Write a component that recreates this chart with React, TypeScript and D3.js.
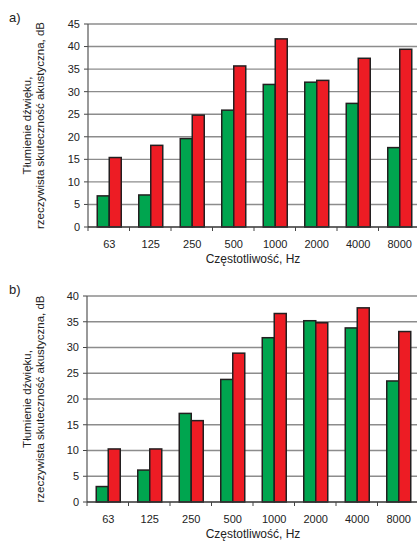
import * as d3 from "d3";

const categories = ["63", "125", "250", "500", "1000", "2000", "4000", "8000"];

// panel a)
const greenA = [6.9, 7.1, 19.6, 25.9, 31.6, 32.1, 27.4, 17.6];
const redA = [15.4, 18.1, 24.8, 35.7, 41.7, 32.5, 37.4, 39.4];
const ticksA = [0, 5, 10, 15, 20, 25, 30, 35, 40, 45];

// panel b)
const greenB = [3.0, 6.2, 17.2, 23.8, 31.9, 35.2, 33.8, 23.5];
const redB = [10.3, 10.3, 15.8, 28.9, 36.6, 34.8, 37.7, 33.1];
const ticksB = [0, 5, 10, 15, 20, 25, 30, 35, 40];

const GREEN = "#00a54f";
const RED = "#ed1c24";
const FONT = "Arial, 'Liberation Sans', Helvetica, sans-serif";

interface PanelProps {
  tag: string;
  green: number[];
  red: number[];
  ticks: number[];
  top: number;
  bottom: number;
  left: number;
}

function Panel({ tag, green, red, ticks, top, bottom, left }: PanelProps) {
  const yMax = ticks[ticks.length - 1];
  const x = d3
    .scaleBand<string>()
    .domain(categories)
    .range([left, left + 8 * 41.5])
    .paddingInner(0)
    .paddingOuter(0);
  const y = d3.scaleLinear().domain([0, yMax]).range([bottom, top]);
  const barW = 12;
  const right = x.range()[1];
  const midY = (top + bottom) / 2;

  return (
    <g fontFamily={FONT}>
      <text x={9} y={top - 2} fontSize={13} fill="#222">
        {tag}
      </text>

      {/* grid */}
      {ticks.map((t) => (
        <g key={t}>
          {t > 0 && (
            <line x1={left} x2={right} y1={y(t)} y2={y(t)} stroke="#8c8c8c" strokeWidth={1.4} />
          )}
          <line x1={left - 4} x2={left} y1={y(t)} y2={y(t)} stroke="#444" />
          <text x={left - 8} y={y(t)} dy="0.35em" textAnchor="end" fontSize={11} fill="#222">
            {t}
          </text>
        </g>
      ))}

      {/* bars */}
      {categories.map((c, i) => {
        const cx = x(c)! + x.bandwidth() / 2 + 0.5;
        return (
          <g key={c}>
            <rect
              x={cx - barW}
              y={y(green[i])}
              width={barW}
              height={bottom - y(green[i])}
              fill={GREEN}
              stroke="#231f20"
              strokeWidth={1.5}
            />
            <rect
              x={cx}
              y={y(red[i])}
              width={barW}
              height={bottom - y(red[i])}
              fill={RED}
              stroke="#231f20"
              strokeWidth={1.5}
            />
            <text x={cx} y={bottom + 21} textAnchor="middle" fontSize={11} fill="#222">
              {c}
            </text>
          </g>
        );
      })}

      {/* axes */}
      <line x1={left} x2={left} y1={top} y2={bottom} stroke="#555" strokeWidth={1.2} />
      <line x1={left} x2={right} y1={bottom} y2={bottom} stroke="#333" strokeWidth={1.4} />
      {categories.map((c) => (
        <line key={c} x1={x(c)!} x2={x(c)!} y1={bottom} y2={bottom + 4} stroke="#444" />
      ))}

      <text x={253} y={bottom + 36} textAnchor="middle" fontSize={12} fill="#222">
        Częstotliwość, Hz
      </text>

      <text
        transform={`translate(31,${midY}) rotate(-90)`}
        textAnchor="middle"
        fontSize={11.5}
        fill="#222"
      >
        Tłumienie dźwięku,
      </text>
      <text
        transform={`translate(44,${midY}) rotate(-90)`}
        textAnchor="middle"
        fontSize={11.5}
        fill="#222"
      >
        rzeczywista skuteczność akustyczna, dB
      </text>
    </g>
  );
}

export default function App() {
  return (
    <div style={{ position: "fixed", left: 0, top: 0, background: "#fff" }}>
      <svg width={417} height={544} style={{ display: "block" }}>
        <rect width={417} height={544} fill="#fff" />
        <Panel tag="a)" green={greenA} red={redA} ticks={ticksA} top={24} bottom={227} left={88} />
        <Panel tag="b)" green={greenB} red={redB} ticks={ticksB} top={296} bottom={502} left={87} />
      </svg>
    </div>
  );
}
